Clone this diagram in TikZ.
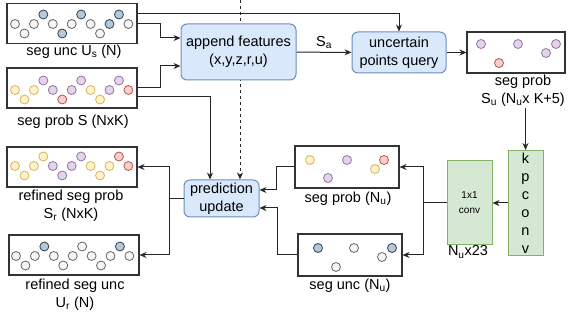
\documentclass[tikz,border=0pt]{standalone}
\usepackage{fontspec}
\setmainfont{Liberation Sans}
\usetikzlibrary{arrows.meta,backgrounds}

\definecolor{blueF}{HTML}{DAE8FC}
\definecolor{blueD}{HTML}{6C8EBF}
\definecolor{greenF}{HTML}{D5E8D4}
\definecolor{greenD}{HTML}{82B366}
\definecolor{grayF}{HTML}{F5F5F5}
\definecolor{grayD}{HTML}{666666}
\definecolor{slateF}{HTML}{BAC8D3}
\definecolor{slateD}{HTML}{23445D}
\definecolor{yelF}{HTML}{FFF2CC}
\definecolor{yelD}{HTML}{D6B656}
\definecolor{purF}{HTML}{E1D5E7}
\definecolor{purD}{HTML}{9673A6}
\definecolor{redF}{HTML}{F8CECC}
\definecolor{redD}{HTML}{B85450}

\begin{document}
\begin{tikzpicture}[x=1pt,y=-1pt,
    font=\fontsize{14.5}{18}\selectfont,
    box/.style={draw=black!80, line width=1.1pt, minimum width=130pt, minimum height=40pt, inner sep=0},
    rbox/.style={draw=blueD, fill=blueF, rounded corners=6pt, line width=1pt, align=center, inner sep=0},
    gbox/.style={draw=greenD, fill=greenF, line width=1pt, align=center, inner sep=0},
    lab/.style={align=center, inner sep=1pt},
    dot/.style={circle, inner sep=0, minimum size=9pt, line width=0.8pt},
    cgy/.style={dot, fill=grayF, draw=grayD},
    cbl/.style={dot, fill=slateF, draw=slateD},
    cyl/.style={dot, fill=yelF, draw=yelD},
    cpu/.style={dot, fill=purF, draw=purD},
    crd/.style={dot, fill=redF, draw=redD},
    link/.style={line width=1pt, draw=black!85, -{Stealth[length=7pt,width=6pt]}}]

  \useasboundingbox (0,0) rectangle (571,320);

  % boxes
  \node[box] (uncS)   at (72,23.5)  {};
  \node[box] (probS)  at (72,88)    {};
  \node[box] (probR)  at (72,167)   {};
  \node[box] (uncR)   at (74,255)   {};
  \node[box, minimum width=98pt, minimum height=41pt]  (probSu) at (516,52.5) {};
  \node[box, minimum width=104pt, minimum height=42pt] (probNu) at (347,167)  {};
  \node[box, minimum width=104pt, minimum height=42pt] (uncNu)  at (350,255)  {};

  \node[rbox, minimum width=115pt, minimum height=56pt] (app)   at (238.5,52)  {append features\\(x,y,z,r,u)};
  \node[rbox, minimum width=94pt, minimum height=41pt]  (query) at (399,52.5)  {uncertain\\points query};
  \node[rbox, minimum width=75pt, minimum height=37pt]  (pred)  at (221.5,198.5) {prediction\\update};

  \node[gbox, minimum width=35pt, minimum height=105pt] (kp)   at (525.5,203) {k\\p\\c\\o\\n\\v};
  \node[gbox, minimum width=45pt, minimum height=84pt, font=\fontsize{10}{15}\selectfont] (conv) at (469.5,203) {1x1\\conv};

  % labels
  \node[lab] (lUncS)   at (74,52)   {seg unc U\textsubscript{s} (N)};
  \node[lab] (lProbS)  at (73,122)  {seg prob S (NxK)};
  \node[lab] (lProbR)  at (71,206)  {refined seg prob\\S\textsubscript{r} (NxK)};
  \node[lab] (lUncR)   at (75,295)  {refined seg unc\\U\textsubscript{r} (N)};
  \node[lab] (lProbSu) at (523,91)  {seg prob\\S\textsubscript{u} (N\textsubscript{u}x K+5)};
  \node[lab] (lConv)   at (468,252) {N\textsubscript{u}x23};
  \node[lab] (lProbNu) at (348,199) {seg prob (N\textsubscript{u})};
  \node[lab] (lUncNu)  at (350,286) {seg unc (N\textsubscript{u})};

  % points
  \foreach \c [count=\i from 0] in {cgy,cgy,cgy,cbl,cgy,cbl,cgy,cbl,cgy,cgy,cbl,cbl,cgy}
    \node[\c] (u\i) at ({15+9.45*\i},{24+9.5*sin(90*\i)}) {};
  \foreach \c [count=\i from 0] in {cyl,cyl,cyl,cpu,cpu,crd,cpu,cpu,cyl,cyl,cpu,cpu,crd}
    \node[\c] (s\i) at ({15+9.45*\i},{90+9.5*sin(90*\i)}) {};
  \foreach \c [count=\i from 0] in {cyl,cyl,cyl,cyl,cpu,cpu,cpu,cpu,cyl,cyl,cyl,crd,crd}
    \node[\c] (r\i) at ({15+9.45*\i},{166+9.5*sin(90*\i)}) {};
  \foreach \c [count=\i from 0] in {cgy,cgy,cgy,cbl,cgy,cgy,cgy,cgy,cgy,cgy,cgy,cbl,cgy}
    \node[\c] (v\i) at ({16+9.45*\i},{256+9.5*sin(90*\i)}) {};

  \node[cpu] (a1) at (481,44) {};
  \node[crd] (a2) at (499,63) {};
  \node[cpu] (a3) at (518,44) {};
  \node[cpu] (a4) at (556,44) {};
  \node[cpu] (a5) at (546,53) {};

  \node[cyl] (b1) at (310,160) {};
  \node[cpu] (b2) at (328,178) {};
  \node[cpu] (b3) at (347,160) {};
  \node[crd] (b4) at (384,160) {};
  \node[cyl] (b5) at (375,169) {};

  \node[cbl] (c1) at (318,248) {};
  \node[cgy] (c2) at (336,267) {};
  \node[cgy] (c3) at (354,248) {};
  \node[cbl] (c4) at (392,248) {};
  \node[cgy] (c5) at (382,257) {};

  % connectors
  \coordinate (top) at (240,0);
  \begin{pgfonlayer}{background}
    \draw[link, dashed, line width=0.8pt] (top) -- (top |- pred.north);
  \end{pgfonlayer}

  \draw[link] ([yshift=10pt]uncS.east) -| (query.north);
  \draw[link] (uncS.east) -- ++(23,0) |- ([yshift=14pt]app.west);
  \draw[link] (probS.east) -- ++(23,0) |- ([yshift=-14pt]app.west);
  \draw[link] ([yshift=-9pt]probS.east) -| ([xshift=-11.5pt]pred.north);
  \draw[link] (app) -- node[above, inner sep=3pt] (sa) {S\textsubscript{a}} (query);
  \draw[link] (query) -- (probSu);
  \draw[link] (lProbSu.south -| kp.north) -- (kp.north);
  \draw[link] (kp) -- (conv);
  \draw[link] (conv.west) -- ++(-23,0) |- (probNu.east);
  \draw[link] (conv.west) -- ++(-23,0) |- (uncNu.east);
  \draw[link] (probNu.west) -- ++(-18,0) |- ([yshift=8.5pt]pred.east);
  \draw[link] (uncNu.west) -- ++(-20,0) |- ([yshift=-9.5pt]pred.east);
  \draw[link] (pred.west) -- ++(-14,0) |- (probR.east);
  \draw[link] (pred.west) -- ++(-14,0) |- (uncR.east);

\end{tikzpicture}
\end{document}
